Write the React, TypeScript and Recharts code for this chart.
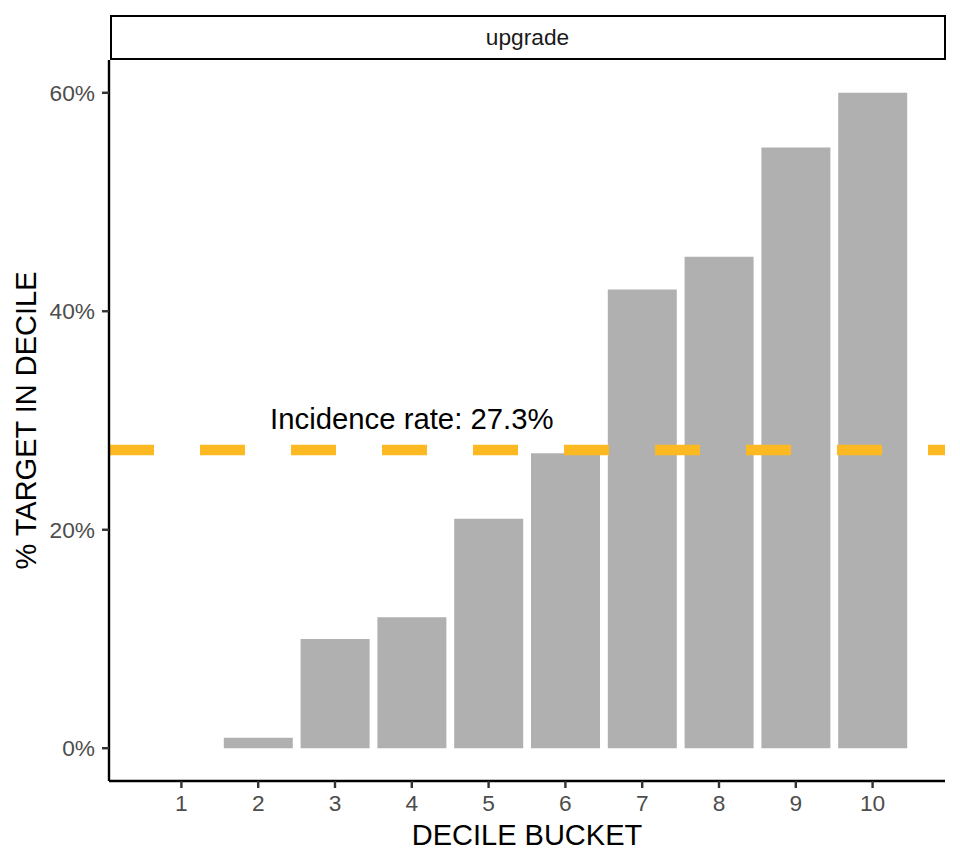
import { BarChart, Bar, XAxis, YAxis, ReferenceLine, ReferenceDot } from "recharts";

// decile lift chart, one facet ("upgrade")
const deciles = [1, 2, 3, 4, 5, 6, 7, 8, 9, 10];
const pctTarget = [0, 0.0095, 0.1, 0.12, 0.21, 0.27, 0.42, 0.45, 0.55, 0.6];
const yTicks = [0, 0.2, 0.4, 0.6];
const incidenceRate = 0.273;
const labelPos = { decile: 4, pct: 0.3 };
const facetLabel = "upgrade";

const data = deciles.map((d, i) => ({ decile: d, pct: pctTarget[i] }));

const FONT = "'Liberation Sans', Arial, Helvetica, sans-serif";
const fmtPct = (v: number) => `${Math.round(v * 100)}%`;

export default function App() {
  return (
    <div style={{ position: "relative", width: 960, height: 865, margin: -8, fontFamily: FONT, background: "#fff" }}>
      <div
        style={{
          position: "absolute",
          left: 109.5,
          top: 14.5,
          width: 836,
          height: 45,
          boxSizing: "border-box",
          border: "2.5px solid #000",
          display: "flex",
          alignItems: "center",
          justifyContent: "center",
          fontSize: 22.7,
          color: "#1a1a1a",
        }}
      >
        {facetLabel}
      </div>
      <BarChart
        width={960}
        height={865}
        data={data}
        margin={{ top: 60, right: 15, bottom: 0, left: 0 }}
        style={{ fontFamily: FONT }}
      >
        <XAxis
          dataKey="decile"
          type="category"
          height={84}
          padding={{ left: 34, right: 34 }}
          axisLine={{ stroke: "#000", strokeWidth: 2.4 }}
          tickLine={{ stroke: "#333", strokeWidth: 2.4 }}
          tickSize={7}
          tickMargin={7}
          tick={{ fill: "#4d4d4d", fontSize: 22.7 }}
          label={{
            content: ({ viewBox }: any) => (
              <text x={viewBox.x + viewBox.width / 2} y={845} textAnchor="middle" fontSize={29} fill="#000">
                DECILE BUCKET
              </text>
            ),
          }}
        />
        <YAxis
          type="number"
          width={109}
          domain={[-0.03, 0.63]}
          ticks={yTicks}
          allowDataOverflow
          tickFormatter={fmtPct}
          axisLine={{ stroke: "#000", strokeWidth: 2.4 }}
          tickLine={{ stroke: "#333", strokeWidth: 2.4 }}
          tickSize={7}
          tickMargin={7}
          tick={{ fill: "#4d4d4d", fontSize: 22.7 }}
          label={{
            content: ({ viewBox }: any) => {
              const cy = viewBox.y + viewBox.height / 2;
              return (
                <text
                  x={25.5}
                  y={cy}
                  transform={`rotate(-90 25.5 ${cy})`}
                  textAnchor="middle"
                  dominantBaseline="central"
                  fontSize={29}
                  fill="#000"
                >
                  % TARGET IN DECILE
                </text>
              );
            },
          }}
        />
        <Bar dataKey="pct" fill="#b0b0b0" barSize={69} isAnimationActive={false} />
        <ReferenceLine y={incidenceRate} stroke="#fdb922" strokeWidth={10.5} strokeDasharray="45 46" />
        <ReferenceDot
          x={labelPos.decile}
          y={labelPos.pct}
          r={0}
          shape={(p: any) => (
            <text x={p.cx} y={p.cy + 8} textAnchor="middle" fontSize={29.3} fill="#000">
              {`Incidence rate: ${(incidenceRate * 100).toFixed(1)}%`}
            </text>
          )}
        />
      </BarChart>
    </div>
  );
}
